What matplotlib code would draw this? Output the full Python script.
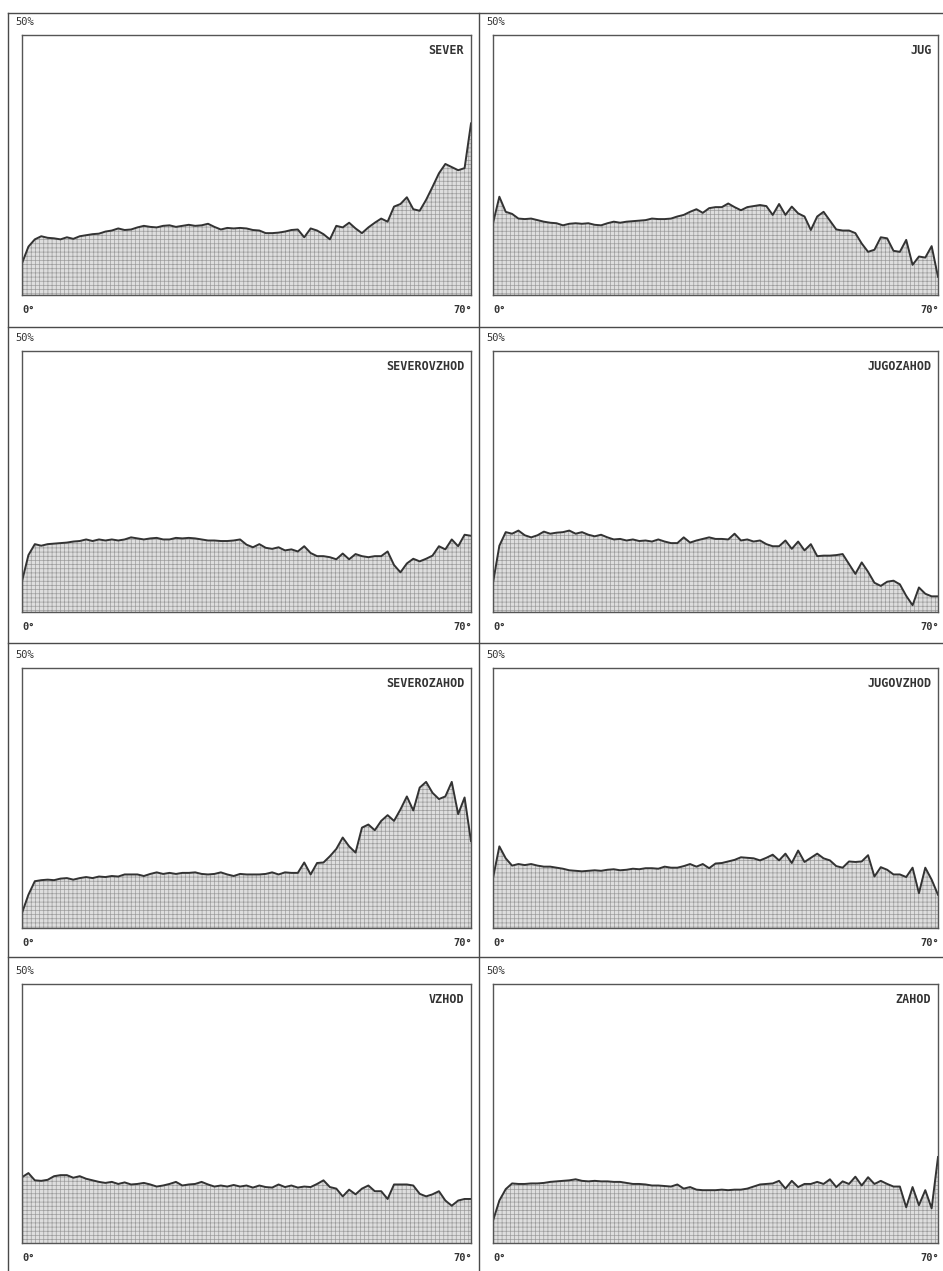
import matplotlib
matplotlib.use("Agg")
import matplotlib.pyplot as plt
from matplotlib.lines import Line2D
import numpy as np

plt.rcParams['hatch.linewidth'] = 0.5

# Slope in degrees (0..70, 1-degree steps)
degrees = list(range(0, 71))

sever = [6.1, 9.3, 10.7, 11.3, 11.0, 10.9, 10.7, 11.1, 10.8, 11.3,
         11.5, 11.7, 11.8, 12.2, 12.4, 12.8, 12.5, 12.6, 13.0, 13.3,
         13.1, 13.0, 13.3, 13.4, 13.1, 13.3, 13.5, 13.3, 13.4, 13.7,
         13.1, 12.6, 12.9, 12.8, 12.9, 12.8, 12.5, 12.4, 11.9, 11.9,
         12.0, 12.2, 12.5, 12.6, 11.1, 12.8, 12.4, 11.7, 10.7, 13.3,
         13.0, 13.9, 12.8, 11.9, 13.0, 13.9, 14.7, 14.1, 17.0, 17.5,
         18.8, 16.5, 16.2, 18.3, 20.8, 23.4, 25.2, 24.6, 24.0, 24.4,
         33.0]

jug = [13.8, 18.9, 16.0, 15.6, 14.7, 14.6, 14.7, 14.4, 14.1, 13.9,
       13.8, 13.4, 13.7, 13.8, 13.7, 13.8, 13.5, 13.4, 13.8, 14.1,
       13.9, 14.1, 14.2, 14.3, 14.4, 14.7, 14.6, 14.6, 14.7, 15.1,
       15.4, 16.0, 16.5, 15.8, 16.7, 16.9, 16.9, 17.6, 16.9, 16.3,
       16.9, 17.1, 17.3, 17.1, 15.4, 17.5, 15.4, 17.0, 15.7, 15.1,
       12.5, 15.1, 16.0, 14.3, 12.6, 12.4, 12.4, 11.9, 9.9, 8.3,
       8.7, 11.1, 10.9, 8.5, 8.3, 10.6, 5.8, 7.4, 7.2, 9.4,
       3.5]

severovzhod = [5.9, 10.9, 13.0, 12.7, 13.0, 13.1, 13.2, 13.3, 13.5, 13.6,
               13.9, 13.6, 13.9, 13.7, 13.9, 13.7, 13.9, 14.3, 14.1, 13.9,
               14.1, 14.2, 13.9, 13.9, 14.2, 14.1, 14.2, 14.1, 13.9, 13.7,
               13.7, 13.6, 13.6, 13.7, 13.9, 12.9, 12.4, 13.0, 12.3, 12.1,
               12.4, 11.8, 12.0, 11.6, 12.6, 11.3, 10.7, 10.7, 10.5, 10.1,
               11.2, 10.1, 11.1, 10.7, 10.5, 10.7, 10.7, 11.6, 9.0, 7.6,
               9.3, 10.2, 9.7, 10.2, 10.8, 12.6, 12.0, 13.9, 12.6, 14.8,
               14.6]

jugozahod = [5.6, 12.7, 15.3, 15.0, 15.6, 14.7, 14.3, 14.7, 15.4, 15.0,
             15.2, 15.3, 15.6, 15.0, 15.3, 14.8, 14.5, 14.8, 14.3, 13.9,
             14.0, 13.7, 13.9, 13.6, 13.7, 13.5, 13.9, 13.5, 13.2, 13.2,
             14.3, 13.3, 13.7, 14.0, 14.3, 14.0, 14.0, 13.9, 15.0, 13.7,
             13.9, 13.5, 13.7, 13.0, 12.6, 12.6, 13.7, 12.1, 13.5, 11.8,
             13.0, 10.7, 10.8, 10.8, 10.9, 11.1, 9.2, 7.3, 9.5, 7.7,
             5.6, 5.0, 5.8, 6.0, 5.3, 3.1, 1.3, 4.7, 3.5, 3.0,
             3.0]

severozahod = [2.9, 6.4, 9.0, 9.2, 9.3, 9.2, 9.5, 9.6, 9.3, 9.6,
               9.8, 9.6, 9.9, 9.8, 10.0, 9.9, 10.3, 10.3, 10.3, 10.0,
               10.4, 10.7, 10.4, 10.6, 10.4, 10.6, 10.6, 10.7, 10.4, 10.3,
               10.4, 10.7, 10.3, 10.0, 10.4, 10.3, 10.3, 10.3, 10.4, 10.7,
               10.3, 10.7, 10.6, 10.6, 12.6, 10.3, 12.5, 12.6, 13.8, 15.2,
               17.4, 15.7, 14.5, 19.3, 19.9, 18.8, 20.6, 21.7, 20.6, 22.8,
               25.3, 22.6, 27.0, 28.1, 26.0, 24.8, 25.3, 28.1, 21.9, 25.1,
               16.7]

jugovzhod = [9.6, 15.7, 13.4, 12.0, 12.3, 12.1, 12.3, 12.0, 11.8, 11.8,
             11.6, 11.4, 11.1, 11.0, 10.9, 11.0, 11.1, 11.0, 11.2, 11.3,
             11.1, 11.2, 11.4, 11.3, 11.5, 11.5, 11.4, 11.8, 11.6, 11.6,
             11.9, 12.3, 11.8, 12.3, 11.5, 12.4, 12.5, 12.8, 13.1, 13.6,
             13.5, 13.4, 13.0, 13.5, 14.1, 13.0, 14.3, 12.5, 14.9, 12.7,
             13.5, 14.3, 13.4, 13.0, 11.9, 11.6, 12.8, 12.7, 12.8, 14.0,
             9.9, 11.7, 11.2, 10.3, 10.3, 9.8, 11.6, 6.7, 11.6, 9.3,
             6.4]

vzhod = [12.7, 13.5, 12.1, 12.0, 12.2, 12.9, 13.1, 13.1, 12.6, 12.9,
         12.4, 12.1, 11.8, 11.6, 11.8, 11.4, 11.7, 11.3, 11.4, 11.6,
         11.3, 10.9, 11.1, 11.4, 11.8, 11.1, 11.3, 11.4, 11.8, 11.3,
         10.9, 11.1, 10.9, 11.2, 10.9, 11.1, 10.7, 11.1, 10.8, 10.7,
         11.3, 10.8, 11.1, 10.7, 10.9, 10.8, 11.4, 12.1, 10.8, 10.5,
         9.0, 10.3, 9.4, 10.5, 11.1, 10.0, 10.0, 8.5, 11.3, 11.3,
         11.3, 11.1, 9.5, 9.0, 9.4, 10.0, 8.2, 7.2, 8.2, 8.5,
         8.5]

zahod = [4.3, 8.2, 10.4, 11.5, 11.4, 11.4, 11.5, 11.5, 11.6, 11.8,
         11.9, 12.0, 12.1, 12.3, 12.0, 11.9, 12.0, 11.9, 11.9, 11.8,
         11.8, 11.6, 11.4, 11.4, 11.3, 11.1, 11.1, 11.0, 10.9, 11.3,
         10.5, 10.8, 10.3, 10.2, 10.2, 10.2, 10.3, 10.2, 10.3, 10.3,
         10.5, 10.9, 11.3, 11.4, 11.5, 12.0, 10.5, 12.0, 10.8, 11.4,
         11.4, 11.8, 11.4, 12.3, 10.8, 11.9, 11.4, 12.8, 11.1, 12.7,
         11.4, 12.0, 11.4, 10.9, 10.9, 6.9, 10.8, 7.3, 10.2, 6.7,
         16.6]

titles = ["SEVER", "JUG", "SEVEROVZHOD", "JUGOZAHOD",
          "SEVEROZAHOD", "JUGOVZHOD", "VZHOD", "ZAHOD"]
series = [sever, jug, severovzhod, jugozahod,
          severozahod, jugovzhod, vzhod, zahod]
ymax_label = "50%"
x_labels = ["0°", "70°"]

W, H = 943, 1271
fig = plt.figure(figsize=(W / 100, H / 100), dpi=100)
fig.patch.set_facecolor('white')

col_x = [(22, 471), (493, 938)]
row_y = [(35, 295), (351, 612), (668, 928), (984, 1243)]

ink = '#333333'
font = 'DejaVu Sans Mono'

for i, (title, vals) in enumerate(zip(titles, series)):
    r, c = divmod(i, 2)
    x0, x1 = col_x[c]
    yt, yb = row_y[r]
    ax = fig.add_axes([x0 / W, 1 - yb / H, (x1 - x0) / W, (yb - yt) / H])
    ax.fill_between(degrees, vals, 0, facecolor='#dedede', edgecolor='#9c9c9c',
                    hatch='++++', linewidth=0)
    ax.plot(degrees, vals, color=ink, lw=1.4)
    ax.set_xlim(0, 70)
    ax.set_ylim(0, 50)
    ax.set_xticks([])
    ax.set_yticks([])
    for s in ax.spines.values():
        s.set_color('#555555')
        s.set_linewidth(1.0)
    ax.text(0.985, 0.965, title, transform=ax.transAxes, ha='right', va='top',
            fontsize=8.5, fontweight='bold', family=font, color='#333333')
    fig.text((x0 - 7) / W, 1 - (yt - 13) / H, ymax_label, ha='left', va='center',
             fontsize=7.5, family=font, color='#333333')
    fig.text(x0 / W, 1 - (yb + 15) / H, x_labels[0], ha='left', va='center',
             fontsize=7.5, fontweight='bold', family=font, color='#333333')
    fig.text((x1 + 1) / W, 1 - (yb + 15) / H, x_labels[1], ha='right', va='center',
             fontsize=7.5, fontweight='bold', family=font, color='#333333')

# frame lines
line_kw = dict(color='#4a4a4a', lw=1.0)
for yy in [13, 327, 643, 957]:
    fig.add_artist(Line2D([8 / W, 1], [1 - yy / H, 1 - yy / H], **line_kw))
fig.add_artist(Line2D([8 / W, 8 / W], [0, 1 - 13 / H], **line_kw))
fig.add_artist(Line2D([479 / W, 479 / W], [0, 1 - 13 / H], **line_kw))

fig.savefig('out.png', dpi=100, facecolor='white')
